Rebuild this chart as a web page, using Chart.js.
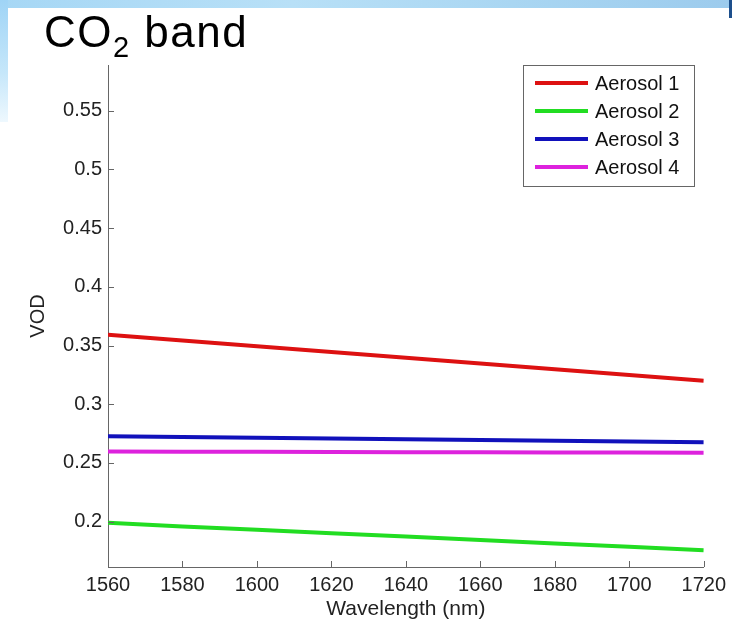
<!DOCTYPE html>
<html>
<head>
<meta charset="utf-8">
<script src="https://cdn.jsdelivr.net/npm/chart.js@4.4.1/dist/chart.umd.min.js"></script>
<style>
  html, body { margin: 0; padding: 0; background: #fff; }
  #wrap { position: relative; width: 732px; height: 630px; overflow: hidden; font-family: "Liberation Sans", Arial, sans-serif; }
  #topstrip { position: absolute; left: 0; top: 0; width: 732px; height: 8px;
    background: linear-gradient(90deg, #a6d7f5 0%, #b8e0f7 40%, #a9d6f2 70%, #9ccbed 100%); }
  #corner { position: absolute; right: 0; top: 0; width: 3px; height: 18px; background: #1d4f8c; }
  #leftstrip { position: absolute; left: 0; top: 0; width: 8px; height: 122px;
    background: linear-gradient(180deg, #9fd4f6 0%, #c6e7fa 60%, #eef8fe 100%); }
  #title { position: absolute; left: 44px; top: 7px; font-size: 44px; color: #000; letter-spacing: 1.5px; }
  #title sub { font-size: 29px; vertical-align: -10px; line-height: 0; }
  canvas { position: absolute; left: 0; top: 0; }
</style>
</head>
<body>
<div id="wrap">
  <div id="topstrip"></div>
  <div id="corner"></div>
  <div id="leftstrip"></div>
  <canvas id="chart" width="732" height="630"></canvas>
  <div id="title">CO<sub>2</sub> band</div>
</div>
<script>
// wavelengths (nm)
const wavelengths = [1560, 1580, 1600, 1620, 1640, 1660, 1680, 1700, 1720];

// VOD per aerosol type
const aerosol1 = [0.3592, 0.3543, 0.3494, 0.3445, 0.3396, 0.3347, 0.3298, 0.3249, 0.3200];
const aerosol2 = [0.1990, 0.1960, 0.1931, 0.1902, 0.1874, 0.1845, 0.1815, 0.1787, 0.1757];
const aerosol3 = [0.2728, 0.2722, 0.2715, 0.2708, 0.2702, 0.2696, 0.2689, 0.2682, 0.2676];
const aerosol4 = [0.2597, 0.2596, 0.2595, 0.2594, 0.2592, 0.2591, 0.2590, 0.2589, 0.2587];

const seriesNames = ['Aerosol 1', 'Aerosol 2', 'Aerosol 3', 'Aerosol 4'];
const seriesColors = ['#dd1111', '#22dd22', '#1111bb', '#dd22dd'];

const xTicks = [1560, 1580, 1600, 1620, 1640, 1660, 1680, 1700, 1720];
const yTicks = [0.2, 0.25, 0.3, 0.35, 0.4, 0.45, 0.5, 0.55];

const allSeries = [aerosol1, aerosol2, aerosol3, aerosol4];
const datasets = allSeries.map((vals, i) => ({
  label: seriesNames[i],
  data: vals.map((v, j) => ({ x: wavelengths[j], y: v })),
  borderColor: seriesColors[i],
  backgroundColor: seriesColors[i],
  borderWidth: 4,
  pointRadius: 0,
  tension: 0,
  fill: false
}));

const axisColor = '#666';
const fontFam = '"Liberation Sans", Arial, sans-serif';
const tickFont = { family: fontFam, size: 20 };

// matlab style inward tick marks
const inwardTicks = {
  id: 'inwardTicks',
  afterDraw(chart) {
    const { ctx, chartArea, scales } = chart;
    ctx.save();
    ctx.strokeStyle = axisColor;
    ctx.lineWidth = 1;
    ctx.beginPath();
    scales.x.ticks.forEach(t => {
      const px = Math.round(scales.x.getPixelForValue(t.value)) + 0.5;
      ctx.moveTo(px, chartArea.bottom);
      ctx.lineTo(px, chartArea.bottom - 6);
    });
    scales.y.ticks.forEach(t => {
      const py = Math.round(scales.y.getPixelForValue(t.value)) + 0.5;
      ctx.moveTo(chartArea.left, py);
      ctx.lineTo(chartArea.left + 6, py);
    });
    ctx.stroke();
    ctx.restore();
  }
};

// boxed legend in the upper right corner
const boxLegend = {
  id: 'boxLegend',
  afterDraw(chart) {
    const { ctx } = chart;
    const x0 = 523, y0 = 65, w = 171, h = 121;
    ctx.save();
    ctx.fillStyle = '#fff';
    ctx.fillRect(x0, y0, w, h);
    ctx.strokeStyle = '#666';
    ctx.lineWidth = 1;
    ctx.strokeRect(x0 + 0.5, y0 + 0.5, w, h);
    ctx.font = '20px ' + fontFam;
    ctx.textBaseline = 'middle';
    chart.data.datasets.forEach((ds, i) => {
      const cy = y0 + 18 + i * 28;
      ctx.strokeStyle = ds.borderColor;
      ctx.lineWidth = 4;
      ctx.beginPath();
      ctx.moveTo(x0 + 12, cy);
      ctx.lineTo(x0 + 65, cy);
      ctx.stroke();
      ctx.fillStyle = '#111';
      ctx.fillText(ds.label, x0 + 72, cy + 1);
    });
    ctx.restore();
  }
};

new Chart(document.getElementById('chart'), {
  type: 'line',
  data: { datasets },
  plugins: [inwardTicks, boxLegend],
  options: {
    responsive: false,
    animation: false,
    layout: { padding: { top: 65, right: 26, left: 0, bottom: 0 } },
    plugins: { legend: { display: false }, tooltip: { enabled: false } },
    scales: {
      x: {
        type: 'linear',
        min: 1560,
        max: 1720,
        afterBuildTicks: s => { s.ticks = xTicks.map(v => ({ value: v })); },
        afterFit: s => { s.height = 63; },
        grid: { display: false, drawTicks: false },
        border: { display: true, color: axisColor, width: 1 },
        ticks: { color: '#222', font: tickFont, padding: 6, maxRotation: 0, callback: v => String(v) },
        title: { display: true, text: 'Wavelength (nm)', color: '#222',
          font: { family: fontFam, size: 21 }, padding: { bottom: 8 } }
      },
      y: {
        type: 'linear',
        min: 0.1614,
        max: 0.589,
        afterBuildTicks: s => { s.ticks = yTicks.map(v => ({ value: v })); },
        afterFit: s => { s.width = 108; },
        grid: { display: false, drawTicks: false },
        border: { display: true, color: axisColor, width: 1 },
        ticks: { color: '#222', font: tickFont, padding: 6, callback: v => String(+v.toFixed(2)) },
        title: { display: true, text: 'VOD', color: '#222',
          font: { family: fontFam, size: 20 }, padding: { top: 26 } }
      }
    }
  }
});
</script>
</body>
</html>
